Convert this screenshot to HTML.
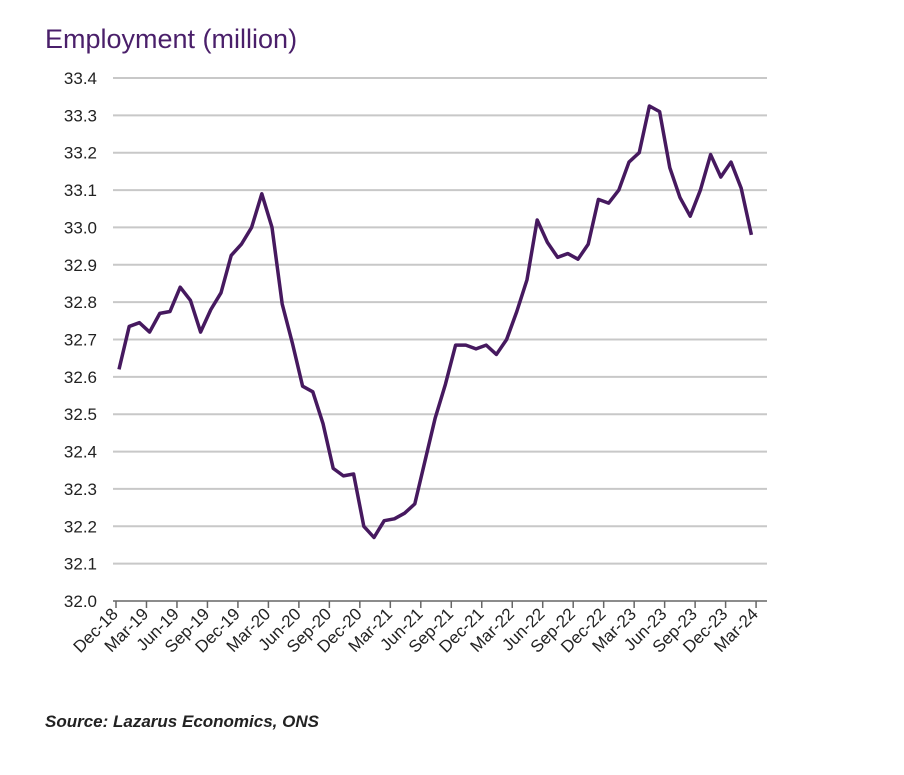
<!DOCTYPE html>
<html><head><meta charset="utf-8"><style>
body{margin:0;background:#fff;width:904px;height:770px;overflow:hidden;font-family:"Liberation Sans",sans-serif}
</style></head><body>
<svg width="904" height="770">
<text x="45" y="48" font-size="27" font-weight="500" fill="#4a1f6a">Employment (million)</text>
<g id="grid"></g><g id="xax"></g>
<path id="line" fill="none" stroke="#46195f" stroke-width="3.5" stroke-linejoin="round"/>
<text x="45" y="727" font-size="17" font-style="italic" font-weight="bold" fill="#222">Source: Lazarus Economics, ONS</text>
</svg>
<script>
const values=[32.62,32.735,32.745,32.72,32.77,32.775,32.84,32.805,32.72,32.78,32.825,32.925,32.955,33.0,33.09,33.0,32.795,32.69,32.575,32.56,32.475,32.355,32.335,32.34,32.2,32.17,32.215,32.22,32.235,32.26,32.375,32.49,32.58,32.685,32.685,32.675,32.685,32.66,32.7,32.775,32.86,33.02,32.96,32.92,32.93,32.915,32.955,33.075,33.065,33.1,33.175,33.2,33.325,33.31,33.16,33.08,33.03,33.1,33.195,33.135,33.175,33.105,32.98];
const yTicks=[32.0,32.1,32.2,32.3,32.4,32.5,32.6,32.7,32.8,32.9,33.0,33.1,33.2,33.3,33.4];
const xLabels=["Dec-18","Mar-19","Jun-19","Sep-19","Dec-19","Mar-20","Jun-20","Sep-20","Dec-20","Mar-21","Jun-21","Sep-21","Dec-21","Mar-22","Jun-22","Sep-22","Dec-22","Mar-23","Jun-23","Sep-23","Dec-23","Mar-24"];
const NS="http://www.w3.org/2000/svg";
const y=v=>601-(v-32.0)/1.4*523;
const xm=i=>116+i*10.16;
const xp=i=>119+i*10.2;
const g=document.getElementById('grid');
yTicks.forEach(t=>{
 const l=document.createElementNS(NS,'line');
 l.setAttribute('x1',113);l.setAttribute('x2',767);l.setAttribute('y1',y(t));l.setAttribute('y2',y(t));
 l.setAttribute('stroke',t===32.0?'#666':'#c8c8c8');l.setAttribute('stroke-width',t===32.0?1.5:2);
 
 
 g.appendChild(l);
 const tx=document.createElementNS(NS,'text');
 tx.setAttribute('x',97);tx.setAttribute('y',y(t)+6);tx.setAttribute('text-anchor','end');tx.setAttribute('font-size','17');tx.setAttribute('fill','#222');
 tx.textContent=t.toFixed(1);
 
 
 g.appendChild(tx);
});
const xa=document.getElementById('xax');
xLabels.forEach((s,k)=>{
 const x=xm(k*3);
 const l=document.createElementNS(NS,'line');
 l.setAttribute('x1',x);l.setAttribute('x2',x);l.setAttribute('y1',601);l.setAttribute('y2',608);l.setAttribute('stroke','#666');l.setAttribute('stroke-width',1.5);
 
 
 xa.appendChild(l);
 const tx=document.createElementNS(NS,'text');
 tx.setAttribute('transform',`translate(${x+3},${615}) rotate(-45)`);tx.setAttribute('text-anchor','end');tx.setAttribute('font-size','17');tx.setAttribute('fill','#222');
 tx.textContent=s;
 
 
 xa.appendChild(tx);
});
document.getElementById('line').setAttribute('d',values.map((v,i)=>(i?'L':'M')+xp(i)+','+y(v)).join(''));
</script>
</body></html>
